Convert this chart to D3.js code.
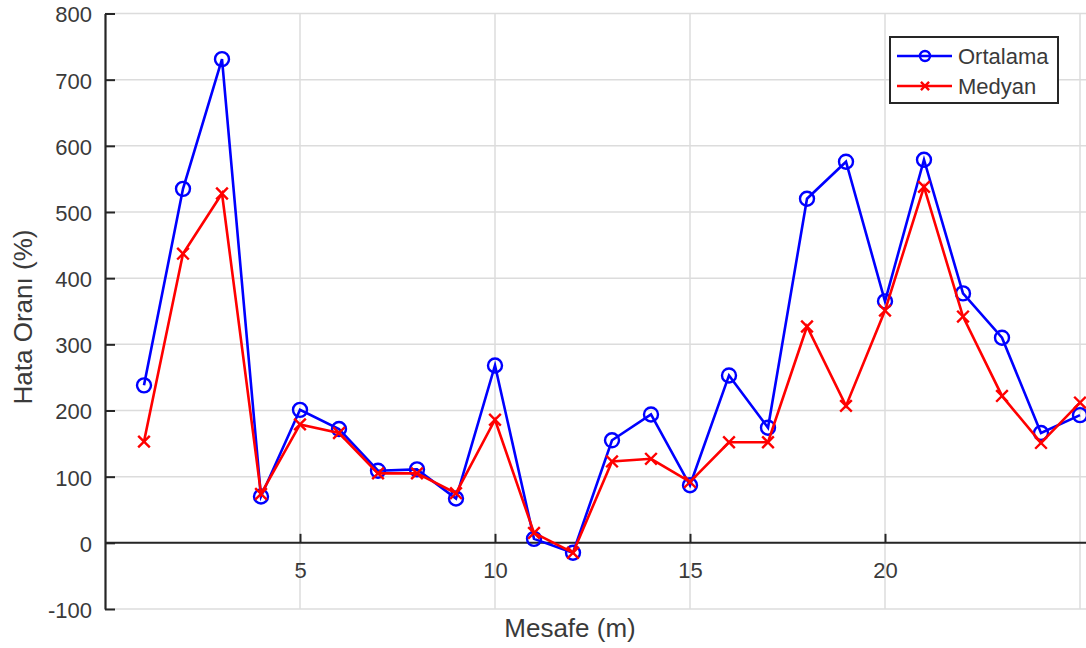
<!DOCTYPE html>
<html>
<head>
<meta charset="utf-8">
<script src="https://cdn.jsdelivr.net/npm/d3@7"></script>
<style>
  body { margin: 0; background: #fff; }
  svg { display: block; font-family: "Liberation Sans", Arial, sans-serif; }
</style>
</head>
<body>
<div id="chart"></div>
<script>
// Mesafe (m) values on the x axis
const mesafe = d3.range(1, 26);
// Error rates (%)
const ortalama = [238, 535, 731, 70, 201, 172, 109, 111, 67, 268, 6, -15, 155, 194, 87,
                  253, 174, 520, 576, 365, 579, 377, 310, 166, 193];
const medyan = [153, 437, 528, 74, 179, 166, 105, 105, 75, 186, 15, -15, 123, 127, 92,
                152, 152, 327, 207, 351, 538, 342, 222, 151, 212];
const yTicks = [-100, 0, 100, 200, 300, 400, 500, 600, 700, 800];
const xTicks = [5, 10, 15, 20];
const xGrid = [5, 10, 15, 20, 25];
const seriesNames = ["Ortalama", "Medyan"];

const width = 1086, height = 648;
const mLeft = 105, mRight = 1080, mTop = 13.5, mBottom = 609;

const x = d3.scaleLinear().domain([0, 25]).range([mLeft, mRight]);
const y = d3.scaleLinear().domain([-100, 800]).range([mBottom, mTop]);

const svg = d3.select("#chart").append("svg")
    .attr("width", width)
    .attr("height", height);

// grid lines
const grid = svg.append("g")
    .attr("stroke", "#dcdcdc")
    .attr("stroke-width", 1.5);
grid.selectAll("line.h")
    .data(yTicks)
    .join("line")
    .attr("class", "h")
    .attr("x1", mLeft).attr("x2", width)
    .attr("y1", d => y(d)).attr("y2", d => y(d));
grid.selectAll("line.v")
    .data(xGrid)
    .join("line")
    .attr("class", "v")
    .attr("x1", d => x(d)).attr("x2", d => x(d))
    .attr("y1", mTop).attr("y2", mBottom);

// y axis (ticks pointing inward)
const yAxis = svg.append("g")
    .attr("transform", `translate(${mLeft},0)`)
    .call(d3.axisRight(y).tickValues(yTicks).tickSize(10).tickSizeOuter(0).tickFormat(d => String(d)));
yAxis.select(".domain").attr("stroke", "#262626").attr("stroke-width", 2.2);
yAxis.selectAll(".tick line").attr("stroke", "#262626").attr("stroke-width", 2);
yAxis.selectAll(".tick text")
    .attr("x", -13)
    .attr("dy", "0.38em")
    .attr("text-anchor", "end")
    .attr("fill", "#3a3a3a")
    .attr("font-size", 22);

// x axis at y = 0, ticks pointing up
const xAxis = svg.append("g")
    .attr("transform", `translate(0,${y(0)})`)
    .call(d3.axisTop(x).tickValues(xTicks).tickSize(9).tickSizeOuter(0).tickFormat(d => String(d)));
xAxis.select(".domain").attr("d", `M${mLeft},0H${width}`)
    .attr("stroke", "#262626").attr("stroke-width", 2);
xAxis.selectAll(".tick line").attr("stroke", "#262626").attr("stroke-width", 2);
xAxis.selectAll(".tick text")
    .attr("y", 35)
    .attr("dy", 0)
    .attr("fill", "#3a3a3a")
    .attr("font-size", 22);

// axis titles
svg.append("text")
    .attr("x", 570)
    .attr("y", 637)
    .attr("text-anchor", "middle")
    .attr("fill", "#3a3a3a")
    .attr("font-size", 26)
    .text("Mesafe (m)");
svg.append("text")
    .attr("transform", "translate(32,317) rotate(-90)")
    .attr("text-anchor", "middle")
    .attr("fill", "#3a3a3a")
    .attr("font-size", 26)
    .text("Hata Oranı (%)");

const line = d3.line()
    .x((d, i) => x(mesafe[i]))
    .y(d => y(d));

// Ortalama (blue, circles)
svg.append("path")
    .datum(ortalama)
    .attr("fill", "none")
    .attr("stroke", "#0000ff")
    .attr("stroke-width", 2.6)
    .attr("d", line);
svg.append("g")
    .selectAll("circle")
    .data(ortalama)
    .join("circle")
    .attr("cx", (d, i) => x(mesafe[i]))
    .attr("cy", d => y(d))
    .attr("r", 7)
    .attr("fill", "none")
    .attr("stroke", "#0000ff")
    .attr("stroke-width", 2.4);

// Medyan (red, crosses)
svg.append("path")
    .datum(medyan)
    .attr("fill", "none")
    .attr("stroke", "#ff0000")
    .attr("stroke-width", 2.6)
    .attr("d", line);
const cross = d3.symbol().type(d3.symbolX).size(90);
svg.append("g")
    .selectAll("path")
    .data(medyan)
    .join("path")
    .attr("transform", (d, i) => `translate(${x(mesafe[i])},${y(d)})`)
    .attr("d", cross)
    .attr("fill", "none")
    .attr("stroke", "#ff0000")
    .attr("stroke-width", 2.4);

// legend
const legend = svg.append("g").attr("transform", "translate(890,37)");
legend.append("rect")
    .attr("width", 168).attr("height", 66)
    .attr("fill", "#fff")
    .attr("stroke", "#262626")
    .attr("stroke-width", 2);
const colors = ["#0000ff", "#ff0000"];
seriesNames.forEach((name, i) => {
    const ly = 19 + i * 30;
    const g = legend.append("g").attr("transform", `translate(0,${ly})`);
    g.append("line")
        .attr("x1", 7).attr("x2", 62)
        .attr("stroke", colors[i]).attr("stroke-width", 2.6);
    if (i === 0) {
        g.append("circle").attr("cx", 35).attr("r", 5)
            .attr("fill", "none").attr("stroke", colors[i]).attr("stroke-width", 2.4);
    } else {
        g.append("path").attr("transform", "translate(35,0)")
            .attr("d", d3.symbol().type(d3.symbolX).size(45))
            .attr("fill", "none").attr("stroke", colors[i]).attr("stroke-width", 2.4);
    }
    g.append("text")
        .attr("x", 68).attr("y", 8)
        .attr("fill", "#3a3a3a")
        .attr("font-size", 22)
        .text(name);
});
</script>
</body>
</html>
